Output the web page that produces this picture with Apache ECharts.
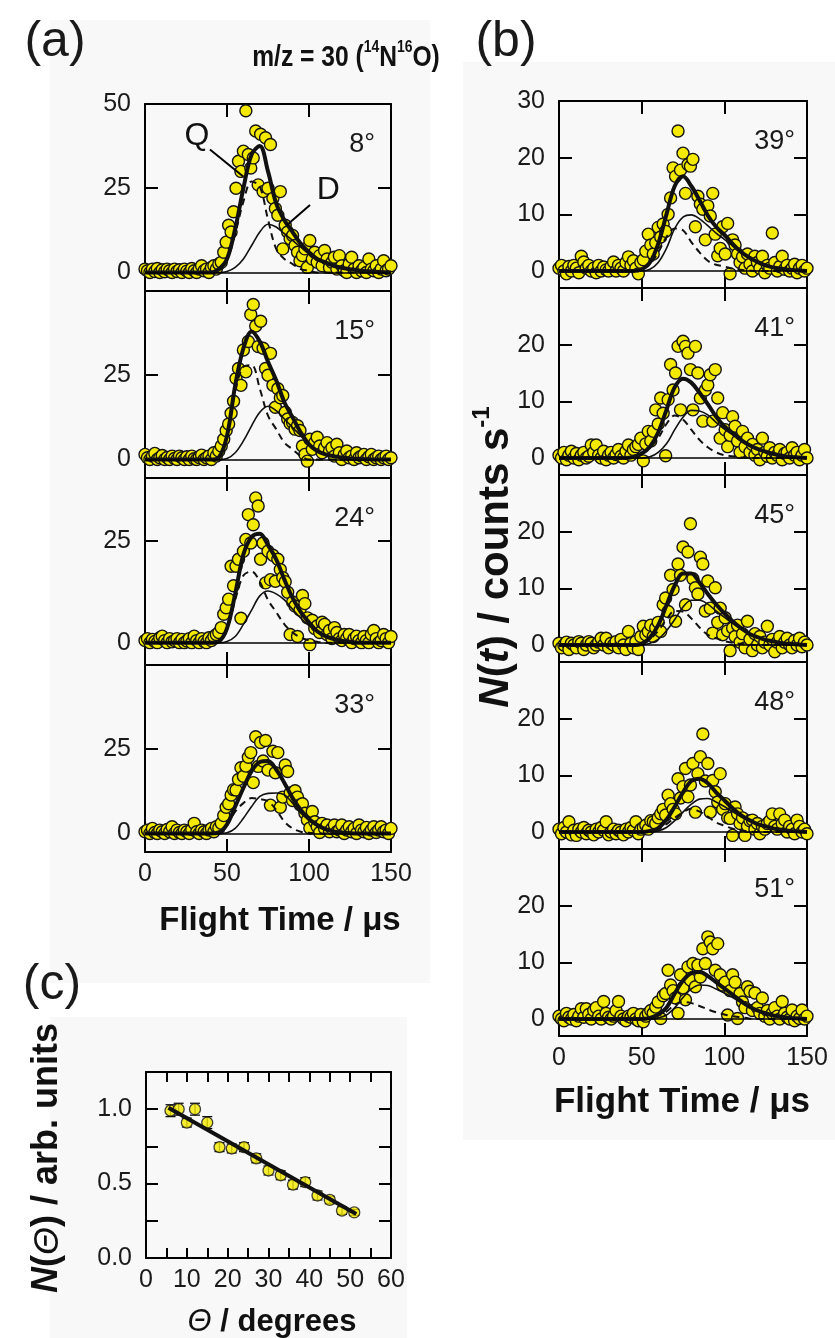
<!DOCTYPE html>
<html><head><meta charset="utf-8">
<script src="https://cdn.jsdelivr.net/npm/echarts@6/dist/echarts.min.js"></script>
<style>html,body{margin:0;padding:0;background:#fff}#c{width:835px;height:1338px}</style>
</head><body><div id="c"></div><script>
// ---------- DATA ----------
const flightTime = [0,1.5,3,4.5,6,7.5,9,10.5,12,13.5,15,16.5,18,19.5,21,22.5,24,25.5,27,28.5,30,31.5,33,34.5,36,37.5,39,40.5,42,43.5,45,46.5,48,49.5,51,52.5,54,55.5,57,58.5,60,61.5,63,64.5,66,67.5,69,70.5,72,73.5,75,76.5,78,79.5,81,82.5,84,85.5,87,88.5,90,91.5,93,94.5,96,97.5,99,100.5,102,103.5,105,106.5,108,109.5,111,112.5,114,115.5,117,118.5,120,121.5,123,124.5,126,127.5,129,130.5,132,133.5,135,136.5,138,139.5,141,142.5,144,145.5,147,148.5,150];
const curveTime = [0,40,45,50,55,60,65,70,75,80,85,90,95,100,105,110,115,120,125,130,135,140,145,150];
const angleLabels = ['8°','15°','24°','33°','39°','41°','45°','48°','51°'];

const counts8  = [1,0.5,0,1,0.3,1.2,0,0.8,0.2,1, 0.5,0,1,0.3,0.8,0,1,0.4,0,1.2, 0.5,0,1,2,0.5,1,0,1.5,2,1, 2.5,3,6,9,14,12,18,25,33,30, 36,48,35,31,34,42,26,41,24,40, 25,38,22,19,17,24,7,14,12,10, 11,8,6,3.5,5,7,1.5,9.5,4,6, 3,5,2,6.5,4,1.5,3,4.5,1,5, 2,0.5,0,2.5,4.5,1,0,2,0.5,1.5, 0,4,1,0.5,2,0,1,3.5,0.5,1, 2];
const counts15 = [1.5,0.5,0,1,1.8,0,0.5,1.2,0,0.6, 0,1,0.3,0,1,0.5,0,0.8,0,1, 0.2,0,0.6,1.3,0,0.5,1,0,2,1, 2.5,4,6,8.6,10.5,13.7,17.3,24,27,22, 32.5,26,35,43,46,39.6,33.5,41,33,27, 25,31.5,22,15.5,21,18.3,19,14,12,10.7, 11,9,10,8.6,4,1.5,-0.5,6,3,5, 6.6,4,2,3.5,5,2.5,3.5,1,4.5,2, 0,1.4,2.5,0.5,1,0,2,0.5,1,1.5, 0,0.8,1.5,0,0.5,1,0,0.5,1,0, 0.5];
const counts24 = [0.5,1,0,0.8,0.3,0,1.2,1.6,0.5,0, 1,0.2,0.5,1,0,0.8,0,0.4,1,0, 1.6,0.5,0,1,0.3,0,1.2,0.5,1.5,2, 2.5,3.7,7,8.6,10.7,18.8,14,18.8,20.5,6, 22.5,25.4,31.5,24.5,29,35.6,33.6,20.5,24.5,14.7, 22.5,15.5,21.5,15.1,20.5,18,16,15,12.4,2, 10,9,1.5,8,11.6,9.6,6.1,-0.5,5.5,3.5, 4.1,2.5,5,4.5,2,3,1,3.7,2.5,1, 0.5,2,1,2,0,1,1.6,0.5,0,1.5, 0.5,0,2,3,1,0,0.5,2,1,0, 1.5];
const counts33 = [0.5,1,0,1.5,0.3,0,1,0.5,0,1.2, 0.5,2,0,1,0.3,0,1,0.5,0,1.2, 3,0.5,0,1,0.5,0,1,1.5,0.5,2, 1.6,3,5.3,7.8,8.8,11.4,13,12.9,16,19.5, 17,20,22.6,24,15.1,28.7,19.9,27,21.5,27.6, 18.8,8.4,24.4,18,24,7.8,10.8,20.3,18.4,12, 9.8,12.7,10.8,8.5,8.8,6,4,1.6,6.5,3.5, 2,0.3,3,1.5,2.5,0.5,1.5,2.5,0.5,1, 2.5,0,1,2,0.5,1.5,0,2.5,1,0.5, 1.8,0,1,2,0.3,1,2,0.5,1,0, 1.5];
const counts39 = [0.5,1,0,-0.5,0.8,0,1,0.5,-0.3,2.6, 1.6,0.5,1,0,0.5,-0.3,1,0,0.7,0.2, 0,0.8,1.6,0,1,0.5,0,1.5,2.5,1, 1.8,0.5,-0.5,1.5,2,3.5,6.5,4.6,3,5, 7.7,6,8.3,7,10,12.9,18.2,16.7,24.7,17.8, 20.8,13.7,18.8,18.5,19.7,7.8,13.2,11.8,10.9,5.5, 11.5,9.7,13.7,6.5,2.7,4,7.8,3,8.4,-0.5, 5.5,4.6,3,1.5,2.5,0.5,3,1.2,0,2.6, 1.5,0.5,2.6,-0.3,1,0.5,6.7,1.5,0,0.8, 2.6,0.3,1,0,0.5,1.2,-0.3,0.5,1,0, 0.5];
const counts41 = [0.5,0,1,-0.3,0.5,1.2,0,0.8,-0.3,0.5, 1,0,0.3,2.3,1,2.3,0.5,0,1.2,-0.3, 0.5,1,0,0.6,1.5,0.3,0,1.2,2.3,0.5, 1.5,2,2.4,3.5,-0.5,2.5,4.7,3,4.7,8.5, 6,10.6,7.9,0.4,10.3,16.5,12,15,19.7,8.5, 20.6,19.7,18.5,15.6,8.5,19.7,15,10.6,6.5,12, 12.9,14.7,6.5,15.6,10.6,3.5,8,5,2,4, 7.3,5.6,3,1,4.7,2,3.5,1,2.4,0.5, 1.5,-0.3,3.5,1,0.3,1.8,0,1,0.5,1.5, -0.3,0.8,1,0,1.8,0.5,1,-0.3,0.5,1.5, 0];
const counts45 = [0.3,-0.5,0,0.5,-0.8,0.3,0,-0.5,0.6,0.3, -0.8,0,0.6,0.3,-0.5,0,0.5,1.2,0,1.2, -0.5,0.3,0,0.6,-0.5,1,0,-0.8,2.4,0.3, -0.5,0.6,-0.8,1.5,3.3,1.8,2.4,3.5,1.5,3, 4,2.4,7.1,8.3,5.9,12.3,9.8,4.2,14.3,12.3, 17.3,7.1,16.4,21.4,11.7,10.1,9,15.5,14.3,6, 11.3,6.5,2.1,10.1,4,6.5,1.8,4.8,2.5,-1, 3,1.5,3.5,0.5,2,-0.5,4.2,1,-1,2, 0,1.5,-0.5,0.5,3.3,0,1,-1.2,0.5,1.5, -0.5,0.5,1.2,0,-0.5,0.8,0,1.2,-0.3,0.5, 0];
const counts48 = [0.5,-0.3,0.8,0,1.8,-0.5,0.3,-0.6,0.5,0, 0.8,-0.3,0.3,0,-0.5,0.5,0,0.8,0.3,1.8, -0.5,0,0.5,-0.3,0.3,0,-0.5,0.5,0,0.8, 0.3,1.8,-0.3,0.5,0.8,1.2,0.5,2,1.8,1.5, 2.5,3.2,4,3,6.5,5,4,3.2,9.4,6, 8,11.2,6.2,8.3,12.1,3.5,10.3,13.3,17.3,9, 12.1,3.5,9.1,7.1,5.3,10.3,4,5,2.5,2.4, -0.6,4.4,3.2,1.5,2.5,-0.6,1,2,2.1,0.5, 1.5,-0.3,1,0.5,1.5,2,3.2,1,0.5,3.2, 1.5,2.1,0,1,0.5,-0.3,2.1,1,0,0.5, -0.3];
const counts51 = [0.5,0,-0.3,1,0.3,0,0.8,-0.3,0.5,1.8, 0.3,1.8,0.8,0,1.5,2,0.5,0,3.1,1, 0.3,0,0.5,1.5,3.1,0.5,0,-0.3,0.5,0.3, 1,0,-0.3,0.8,-0.5,0.5,1,1.5,1,2.1, 3,0.1,4.1,4.5,8.6,6,5,3.7,1,7.8, 5.5,3.4,9.2,6.9,9.8,5.7,9.5,7.4,12.4,9.8, 14.5,13.6,12.4,8.6,13.3,7.8,6,6.5,0.7,5, 7.8,6.5,0.1,4.5,3,2,5.7,4.9,1.5,4.6, 2,1,3.7,0.5,1.5,0,1,2,0.5,0, 3.1,1,0.3,0,1.6,-0.3,0.5,0.1,1.6,0, 0.5];

const total8  = [0,0,1,4,13,25,35,37.5,30,20.5,15.5,12,8.5,6,4,3,2,1.4,1,0.6,0.4,0.2,0.1,0];
const slowD8  = [0,0,0,0.3,1.5,4,8,12,14.3,13.5,11.5,9.5,7.5,5.5,4,3,2,1.4,1,0.6,0.4,0.2,0.1,0];
const fastQ8  = [0,0,1,3.7,11.5,21,27,25.5,15.7,7,4,2.5,1,0.5,0,0,0,0,0,0,0,0,0,0];
const total15 = [0,0,0.6,7,22,33,38,35,29,23.5,17,12.5,8,4.5,2.5,1.5,1,0.6,0.3,0.2,0.1,0,0,0];
const slowD15 = [0,0,0,0.3,2,5.5,10,14,15.8,14.5,12,9.5,7,4.5,2.5,1.5,1,0.6,0.3,0.2,0.1,0,0,0];
const fastQ15 = [0,0,0.6,6.7,20,27.5,28,21,13,9,5,3,1,0,0,0,0,0,0,0,0,0,0,0];
const total24 = [0,0,0.3,3.5,12,21.7,26,26.8,24,20.5,15.5,11,7.5,5,2.8,1.6,0.9,0.5,0.2,0,0,0,0,0];
const slowD24 = [0,0,0,0.3,1.5,4.5,8,11.5,12.7,12,10.5,8.2,6,4.2,2.6,1.5,0.9,0.5,0.2,0,0,0,0,0];
const fastQ24 = [0,0,0.3,3.2,10.5,16.5,17.5,15,10.5,7.5,4.5,2.5,1.2,0.6,0.2,0,0,0,0,0,0,0,0,0];
const total33 = [0,0,0.3,2.7,8,13.5,18.5,21.2,21.5,19,15,10.5,7,4.3,2.5,1.3,0.6,0.3,0.1,0,0,0,0,0];
const slowD33 = [0,0,0,0.2,1.5,4.5,8,11,11.9,12,11.5,9,6,4,2.4,1.3,0.6,0.3,0.1,0,0,0,0,0];
const fastQ33 = [0,0,0.3,2.5,6.5,9,10.5,10.2,9.6,7,3.5,1.5,0.5,0.2,0,0,0,0,0,0,0,0,0,0];
const total39 = [0,0,0,0.3,1.5,4.8,10,15,16.7,15,12.5,9.8,7.8,6.4,4.8,3.4,2.4,1.6,1,0.6,0.4,0.2,0.1,0];
const slowD39 = [0,0,0,0,0.3,1.5,4,7.5,9.5,9.9,9.2,8,6.7,5.6,4.4,3.2,2.3,1.5,1,0.6,0.4,0.2,0.1,0];
const fastQ39 = [0,0,0,0.3,1.2,3.3,6,7.5,7.2,5.1,3.3,1.8,1.1,0.8,0.4,0.2,0.1,0,0,0,0,0,0,0];
const total41 = [0,0,0.2,0.8,2,4.5,8.5,12.5,14,13.3,11.5,9.5,7.3,5.6,4.4,3.2,2.3,1.6,1.1,0.7,0.4,0.2,0.1,0];
const slowD41 = [0,0,0,0,0.2,1,2.5,5,7.2,8.4,8.3,7.6,6.3,5.1,4.1,3.1,2.2,1.6,1.1,0.7,0.4,0.2,0.1,0];
const fastQ41 = [0,0,0.2,0.8,1.8,3.5,6,7.5,6.8,5,3.2,1.9,1,0.5,0.3,0.1,0,0,0,0,0,0,0,0];
const total45 = [0,0,0,0.2,1.3,3.5,7,10.5,12.6,12.6,11,9,7.2,5.6,4.2,3,2,1.4,0.9,0.6,0.3,0.2,0.1,0];
const slowD45 = [0,0,0,0,0.3,1,2.5,4.5,6.7,7.9,7.9,7.2,6,4.9,3.8,2.8,1.9,1.3,0.9,0.6,0.3,0.2,0.1,0];
const fastQ45 = [0,0,0,0.2,1,2.5,4.5,6,5.9,4.7,3.1,1.8,1.2,0.7,0.4,0.2,0.1,0,0,0,0,0,0,0];
const total48 = [0,0,0,0,0.2,0.7,2.2,4.5,7,9,9.4,8.6,7,5.6,4.2,3,2.1,1.4,1,0.6,0.4,0.2,0.1,0];
const slowD48 = [0,0,0,0,0,0.2,0.8,2,3.5,4.9,5.8,5.9,5.3,4.5,3.6,2.7,2,1.4,1,0.6,0.4,0.2,0.1,0];
const fastQ48 = [0,0,0,0,0.2,0.5,1.4,2.5,3.5,4.1,3.6,2.7,1.7,1.1,0.6,0.3,0.1,0,0,0,0,0,0,0];
const total51 = [0,0,0,0,0.2,0.8,2,4.5,6.8,8.1,8.3,7.6,6.5,5.4,4.3,3.2,2.2,1.5,1,0.6,0.4,0.2,0.1,0];
const slowD51 = [0,0,0,0,0,0.2,0.7,2,3.8,5.3,6,5.9,5.3,4.6,3.8,2.9,2.1,1.4,1,0.6,0.4,0.2,0.1,0];
const fastQ51 = [0,0,0,0,0.2,0.6,1.3,2.5,3,2.8,2.3,1.7,1.2,0.8,0.5,0.3,0.1,0,0,0,0,0,0,0];

const yLabelsA1 = [0,25,50];
const yLabelsA  = [0,25];
const yLabelsB1 = [0,10,20,30];
const yLabelsB  = [0,10,20];

const qLabelPos = [31.7,40.4];
const dLabelPos = [111.8,24.5];
const qArrow = [[39.6,36.5],[59.9,28.5]];
const dArrow = [[100.6,20],[86.4,14]];

const cTheta = [6,8,10,12,15,18,21,24,27,30,33,36,39,42,45,48,51];
const cN     = [0.99,1.0,0.91,1.0,0.91,0.745,0.736,0.745,0.67,0.588,0.556,0.493,0.51,0.42,0.39,0.318,0.306];
const cErr   = [0.04,0.04,0.03,0.04,0.04,0.03,0.03,0.03,0.03,0.03,0.03,0.03,0.03,0.03,0.025,0.025,0.02];
const fitTheta = [5.5,51.5];
const fitN     = [1.01,0.295];
const cYTicks  = [0,0.25,0.5,0.75,1.0];
const cYLabels = [0,0.5,1.0];

// ---------- STYLE / LAYOUT ----------
const FONT = '"Liberation Sans", Arial, sans-serif';
const YEL = '#f4ea00';
const INK = '#111';
const H = 187;
const aTop = 104, bTop = 101;
const panels = [
  {angle:angleLabels[0], pts:counts8,  tot:total8,  d:slowD8,  q:fastQ8,  left:145, top:aTop,       w:246, ymin:-5.5, ymax:50,   yl:yLabelsA1, xl:false},
  {angle:angleLabels[1], pts:counts15, tot:total15, d:slowD15, q:fastQ15, left:145, top:aTop+H,     w:246, ymin:-5.5, ymax:50,   yl:yLabelsA,  xl:false},
  {angle:angleLabels[2], pts:counts24, tot:total24, d:slowD24, q:fastQ24, left:145, top:aTop+2*H,   w:246, ymin:-5.5, ymax:40.5, yl:yLabelsA,  xl:false},
  {angle:angleLabels[3], pts:counts33, tot:total33, d:slowD33, q:fastQ33, left:145, top:aTop+3*H,   w:246, ymin:-5.5, ymax:50,   yl:yLabelsA,  xl:true},
  {angle:angleLabels[4], pts:counts39, tot:total39, d:slowD39, q:fastQ39, left:559, top:bTop,       w:248, ymin:-3, ymax:30, yl:yLabelsB1, xl:false},
  {angle:angleLabels[5], pts:counts41, tot:total41, d:slowD41, q:fastQ41, left:559, top:bTop+H,     w:248, ymin:-3, ymax:30, yl:yLabelsB,  xl:false},
  {angle:angleLabels[6], pts:counts45, tot:total45, d:slowD45, q:fastQ45, left:559, top:bTop+2*H,   w:248, ymin:-3, ymax:30, yl:yLabelsB,  xl:false},
  {angle:angleLabels[7], pts:counts48, tot:total48, d:slowD48, q:fastQ48, left:559, top:bTop+3*H,   w:248, ymin:-3, ymax:30, yl:yLabelsB,  xl:false},
  {angle:angleLabels[8], pts:counts51, tot:total51, d:slowD51, q:fastQ51, left:559, top:bTop+4*H,   w:248, ymin:-3, ymax:30, yl:yLabelsB,  xl:true}
];

function xAx(g, pos, showLabel, min, max, interval, tickLen, fmt) {
  return {gridIndex:g, type:'value', min:min, max:max, interval:interval, position:pos,
    axisLine:{show:true, onZero:false, lineStyle:{color:'#000', width:2}},
    axisTick:{show:true, inside:true, length:tickLen, lineStyle:{color:'#000', width:2}},
    axisLabel:{show:showLabel, fontSize:25, color:'#1a1a1a', margin:10, fontFamily:FONT, formatter:fmt},
    splitLine:{show:false}};
}
function yAx(g, pos, min, max, ticks, labels, showLabel, tickLen, fmt) {
  return {gridIndex:g, type:'value', min:min, max:max, position:pos,
    axisLine:{show:true, onZero:false, lineStyle:{color:'#000', width:2}},
    axisTick:{show:true, inside:true, length:tickLen, customValues:ticks, lineStyle:{color:'#000', width:2}},
    axisLabel:{show:showLabel, customValues:labels, fontSize:25, color:'#1a1a1a', margin:14, fontFamily:FONT, formatter:fmt},
    splitLine:{show:false}};
}

const grids = [], xAxes = [], yAxes = [], series = [], graphics = [];

// light background panels
graphics.push({type:'rect', shape:{x:50, y:20, width:380, height:963}, style:{fill:'#f8f8f8'}, z:-10, silent:true});
graphics.push({type:'rect', shape:{x:463, y:62, width:372, height:1078}, style:{fill:'#f8f8f8'}, z:-10, silent:true});
graphics.push({type:'rect', shape:{x:50, y:1017, width:357, height:321}, style:{fill:'#f8f8f8'}, z:-10, silent:true});

panels.forEach((p, g) => {
  grids.push({left:p.left, top:p.top, width:p.w, height:H, containLabel:false, outerBoundsMode:'none'});
  xAxes.push(xAx(g, 'bottom', p.xl, 0, 150, 50, 13));
  xAxes.push(xAx(g, 'top', false, 0, 150, 50, 13));
  yAxes.push(yAx(g, 'left', p.ymin, p.ymax, p.yl, p.yl, true, 13));
  yAxes.push(yAx(g, 'right', p.ymin, p.ymax, p.yl, p.yl, false, 13));
  const xi = 2*g, yi = 2*g;
  const curve = arr => curveTime.map((t, i) => [t, arr[i]]);
  series.push({type:'line', xAxisIndex:xi, yAxisIndex:yi, data:[], silent:true, z:1,
    markLine:{silent:true, symbol:'none', animation:false, label:{show:false},
      lineStyle:{color:'#000', width:1.5, type:'solid'}, data:[{yAxis:0}]}});
  series.push({type:'scatter', xAxisIndex:xi, yAxisIndex:yi, z:2, symbolSize:12,
    data:flightTime.map((t, i) => [t, p.pts[i]]),
    itemStyle:{color:YEL, borderColor:'#141414', borderWidth:1.4, opacity:1}});
  series.push({type:'line', xAxisIndex:xi, yAxisIndex:yi, z:3, data:curve(p.q), smooth:0.35, symbol:'none',
    lineStyle:{color:INK, width:2, type:[7,5]}});
  series.push({type:'line', xAxisIndex:xi, yAxisIndex:yi, z:3, data:curve(p.d), smooth:0.35, symbol:'none',
    lineStyle:{color:INK, width:1.6}});
  series.push({type:'line', xAxisIndex:xi, yAxisIndex:yi, z:4, data:curve(p.tot), smooth:0.35, symbol:'none',
    lineStyle:{color:INK, width:4}});
  graphics.push({type:'text', x:p.left + p.w - (g < 4 ? 16 : 12), y:p.top + 41, z:10,
    style:{text:p.angle, fontSize:27, fontFamily:FONT, fill:'#1a1a1a', align:'right', verticalAlign:'middle'}});
});

// arrows for the Q / D annotations in the 8° panel
series.push({type:'line', xAxisIndex:0, yAxisIndex:0, z:6, data:[], silent:true,
  markLine:{silent:true, animation:false, symbol:['none','arrow'], symbolSize:[0,10], label:{show:false},
    lineStyle:{color:'#000', width:2, type:'solid'},
    data:[[{coord:qArrow[0]},{coord:qArrow[1]}],[{coord:dArrow[0]},{coord:dArrow[1]}]]}});

// panel (c)
const gc = panels.length;
grids.push({left:146, top:1072, width:245, height:186, containLabel:false, outerBoundsMode:'none'});
const fmtX = v => (v % 10 === 0 ? String(v) : '');
xAxes.push(xAx(gc, 'bottom', true, 0, 60, 5, 10, fmtX));
xAxes.push(xAx(gc, 'top', false, 0, 60, 5, 10));
yAxes.push(yAx(gc, 'left', 0, 1.25, cYTicks, cYLabels, true, 12, v => v.toFixed(1)));
yAxes.push(yAx(gc, 'right', 0, 1.25, cYTicks, cYLabels, false, 12));
const cxi = 2*gc;
series.push({type:'custom', xAxisIndex:cxi, yAxisIndex:cxi, z:2,
  data:cTheta.map((t, i) => [t, cN[i], cErr[i]]),
  renderItem:(params, api) => {
    const x = api.value(0), y = api.value(1), e = api.value(2);
    const a = api.coord([x, y + e]), b = api.coord([x, y - e]);
    const hw = 5, st = {stroke:'#000', lineWidth:1.2};
    return {type:'group', children:[
      {type:'line', shape:{x1:a[0], y1:a[1], x2:b[0], y2:b[1]}, style:st},
      {type:'line', shape:{x1:a[0]-hw, y1:a[1], x2:a[0]+hw, y2:a[1]}, style:st},
      {type:'line', shape:{x1:b[0]-hw, y1:b[1], x2:b[0]+hw, y2:b[1]}, style:st}
    ]};
  }});
series.push({type:'scatter', xAxisIndex:cxi, yAxisIndex:cxi, z:3, symbolSize:11,
  data:cTheta.map((t, i) => [t, cN[i]]),
  itemStyle:{color:YEL, borderColor:'#141414', borderWidth:1.3}});
series.push({type:'line', xAxisIndex:cxi, yAxisIndex:cxi, z:4, symbol:'none',
  data:fitTheta.map((t, i) => [t, fitN[i]]), lineStyle:{color:INK, width:4}});

// text elements
const big = {fontSize:50, fontFamily:FONT, fill:'#1a1a1a', align:'center', verticalAlign:'middle'};
graphics.push({type:'text', x:55, y:42, z:10, style:Object.assign({text:'(a)'}, big)});
graphics.push({type:'text', x:506, y:42, z:10, style:Object.assign({text:'(b)'}, big)});
graphics.push({type:'text', x:52, y:985, z:10, style:Object.assign({text:'(c)'}, big)});

graphics.push({type:'text', x:346, y:56, scaleX:0.82, z:10, style:{
  text:'{b|m/z = 30 (}{s|14}{b|N}{s|16}{b|O)}', align:'center', verticalAlign:'middle',
  rich:{
    b:{fontSize:30, fontWeight:'bold', fontFamily:FONT, fill:'#111', verticalAlign:'bottom', lineHeight:34},
    s:{fontSize:17, fontWeight:'bold', fontFamily:FONT, fill:'#111', verticalAlign:'top', lineHeight:20}
  }}});

function titleRich(fs) {
  return {
    b:{fontSize:fs, fontWeight:'bold', fontFamily:FONT, fill:'#111', verticalAlign:'bottom', lineHeight:fs+5},
    bi:{fontSize:fs, fontWeight:'bold', fontStyle:'italic', fontFamily:FONT, fill:'#111', verticalAlign:'bottom', lineHeight:fs+5},
    i:{fontSize:fs, fontStyle:'italic', fontFamily:FONT, fill:'#111', verticalAlign:'bottom', lineHeight:fs+5},
    sup:{fontSize:Math.round(fs*0.57), fontWeight:'bold', fontFamily:FONT, fill:'#111', verticalAlign:'top', lineHeight:Math.round(fs*0.62)}
  };
}
graphics.push({type:'text', x:280, y:918, z:10, style:{text:'{b|Flight Time / μs}', rich:titleRich(33), align:'center', verticalAlign:'middle'}});
graphics.push({type:'text', x:682, y:1100, z:10, style:{text:'{b|Flight Time / μs}', rich:titleRich(35), align:'center', verticalAlign:'middle'}});
graphics.push({type:'text', x:494, y:557, rotation:Math.PI/2, z:10, style:{text:'{bi|N}{b|(}{bi|t}{b|) / counts s}{sup|-1}', rich:titleRich(42), align:'center', verticalAlign:'middle'}});
graphics.push({type:'text', x:45, y:1158, rotation:Math.PI/2, z:10, style:{text:'{bi|N}{b|(}{i|Θ}{b|) / arb. units}', rich:titleRich(36), align:'center', verticalAlign:'middle'}});
graphics.push({type:'text', x:272, y:1320, z:10, style:{text:'{i|Θ}{b| / degrees}', rich:titleRich(31), align:'center', verticalAlign:'middle'}});

const chart = echarts.init(document.getElementById('c'), null, {renderer:'canvas'});
chart.setOption({
  animation:false,
  backgroundColor:'#ffffff',
  grid:grids, xAxis:xAxes, yAxis:yAxes, series:series, graphic:graphics
});
// Q and D annotation letters, placed through the 8° panel's scales
const qPx = chart.convertToPixel({gridIndex:0}, qLabelPos);
const dPx = chart.convertToPixel({gridIndex:0}, dLabelPos);
const annStyle = {fontSize:32, fontFamily:FONT, fill:'#111', align:'center', verticalAlign:'middle'};
graphics.push({type:'text', x:qPx[0], y:qPx[1], z:12, style:Object.assign({text:'Q'}, annStyle)});
graphics.push({type:'text', x:dPx[0], y:dPx[1], z:12, style:Object.assign({text:'D'}, annStyle)});
chart.setOption({graphic:graphics});
</script></body></html>
